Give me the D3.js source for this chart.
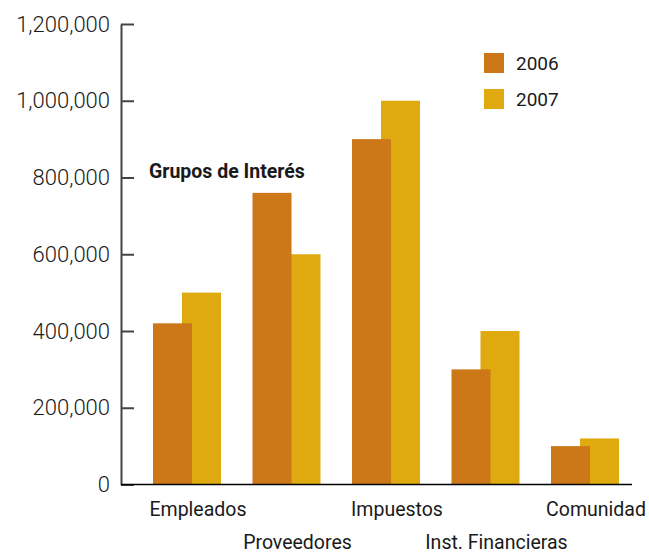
<!DOCTYPE html>
<html>
<head>
<meta charset="utf-8">
<script src="https://cdn.jsdelivr.net/npm/d3@7"></script>
<style>
  body { margin: 0; background: #fff; }
  text { font-family: Roboto, "Noto Sans", sans-serif; fill: #1a1a1a; }
</style>
</head>
<body>
<div id="chart"></div>
<script>
// Data
let categories = ['Empleados', 'Proveedores', 'Impuestos', 'Inst. Financieras', 'Comunidad'];
let years = ['2006', '2007'];
let values2006 = [420000, 760000, 900000, 300000, 100000];
let values2007 = [500000, 600000, 1000000, 400000, 120000];
let yTicks = [0, 200000, 400000, 600000, 800000, 1000000, 1200000];
let colors = { '2006': '#cc7818', '2007': '#dfaa10' };

let width = 649, height = 554;

let svg = d3.select("#chart")
  .append("svg")
  .attr("width", width)
  .attr("height", height);

// Scales
let y = d3.scaleLinear()
  .domain([0, 1200000])
  .range([484.5, 24]);

let x = d3.scaleBand()
  .domain(categories)
  .range([153, 619])
  .paddingInner(0.3166)
  .paddingOuter(0);

let sub = d3.scalePoint()
  .domain(years)
  .range([0, 29]);

let barW = x.bandwidth() - sub('2007');

// y-axis
let yAxis = d3.axisLeft(y)
  .tickValues(yTicks)
  .tickSizeInner(-13)
  .tickSizeOuter(0)
  .tickPadding(11)
  .tickFormat(d3.format(","));

let yAxisEl = svg.append("g")
  .attr("transform", "translate(121,0)")
  .call(yAxis);

yAxisEl.select(".domain").attr("stroke", "#444").attr("stroke-width", 2);
yAxisEl.selectAll(".tick line").attr("stroke", "#444").attr("stroke-width", 2);
yAxisEl.selectAll(".tick text")
  .style("font-size", "22px")
  .style("font-weight", "300")
  .attr("fill", "#1a1a1a");

// bars, 2007 behind 2006
let series = [
  { year: '2007', values: values2007 },
  { year: '2006', values: values2006 }
];

series.forEach(s => {
  svg.append("g")
    .attr("class", "bars y" + s.year)
    .selectAll("rect")
    .data(s.values)
    .join("rect")
      .attr("x", (d, i) => x(categories[i]) + sub(s.year))
      .attr("y", d => y(d))
      .attr("width", barW)
      .attr("height", d => y(0) - y(d))
      .attr("fill", colors[s.year]);
});

// x-axis line
svg.append("line")
  .attr("x1", 121)
  .attr("x2", 632)
  .attr("y1", y(0))
  .attr("y2", y(0))
  .attr("stroke", "#000")
  .attr("stroke-width", 1.5);

// category labels, alternating rows
svg.append("g")
  .attr("class", "xlabels")
  .selectAll("text")
  .data(categories)
  .join("text")
    .attr("x", d => x(d) + x.bandwidth() / 2 + 11)
    .attr("y", (d, i) => i % 2 === 0 ? 516 : 549)
    .attr("text-anchor", "middle")
    .style("font-size", "19.5px")
    .text(d => d);

// title
svg.append("text")
  .attr("x", 149)
  .attr("y", 178)
  .style("font-size", "19.5px")
  .style("font-weight", "bold")
  .attr("fill", "#000")
  .text("Grupos de Interés");

// legend
let legend = svg.append("g")
  .attr("class", "legend")
  .selectAll("g")
  .data(years)
  .join("g")
    .attr("transform", (d, i) => "translate(484," + (53 + i * 36) + ")");

legend.append("rect")
  .attr("width", 20)
  .attr("height", 20)
  .attr("fill", d => colors[d]);

legend.append("text")
  .attr("x", 32)
  .attr("y", 17)
  .style("font-size", "19px")
  .text(d => d);
</script>
</body>
</html>
